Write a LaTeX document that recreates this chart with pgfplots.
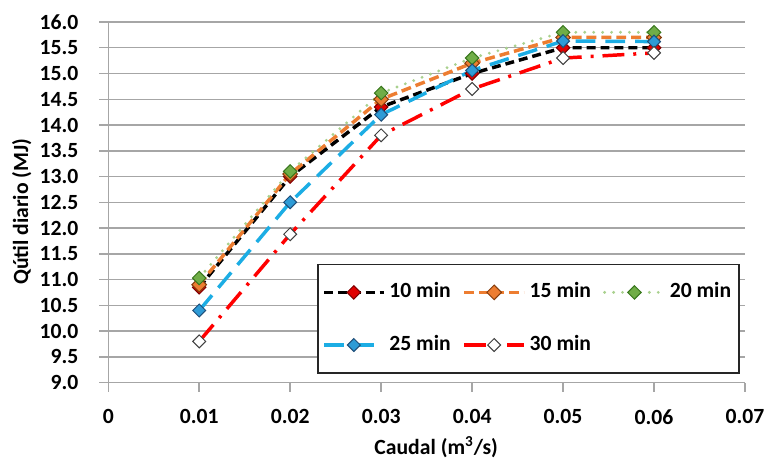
\documentclass[border=0pt]{standalone}
\usepackage{pgfplots}
\pgfplotsset{compat=1.18}
\usepackage{fontspec}
\setmainfont{Carlito}
\definecolor{gridgray}{HTML}{A6A6A6}
\definecolor{c15}{HTML}{ED7D31}
\definecolor{c15d}{HTML}{843C0C}
\definecolor{c20}{HTML}{A9D18E}
\definecolor{c20m}{HTML}{70AD47}
\definecolor{c20d}{HTML}{38761D}
\definecolor{c25}{HTML}{1CADE4}
\definecolor{c25m}{HTML}{2E9BD6}
\definecolor{c25d}{HTML}{1F4E79}
\definecolor{c10m}{HTML}{E00000}
\definecolor{c10d}{HTML}{7F0000}
\newcommand{\lbl}{\fontsize{10.9}{13}\selectfont\bfseries}
\begin{document}
\begin{tikzpicture}
\begin{axis}[
  scale only axis, width=320.5pt, height=181.5pt,
  clip=false,
  xmin=0, xmax=0.07, ymin=9, ymax=16,
  scaled x ticks=false, scaled y ticks=false,
  xtick={0,0.01,0.02,0.03,0.04,0.05,0.06,0.07},
  xticklabels={0,0.01,0.02,0.03,0.04,0.05,0.06,0.07},
  ytick={9,9.5,10,10.5,11,11.5,12,12.5,13,13.5,14,14.5,15,15.5,16},
  /pgf/number format/.cd, fixed, fixed zerofill, precision=1, assume math mode=true,
  /pgfplots/.cd,
  axis x line=bottom, axis y line=left,
  axis line style={-, draw=gridgray, line width=0.75pt},
  tick align=outside, major tick length=4.5pt,
  tick style={draw=gridgray, line width=0.75pt},
  ymajorgrids, grid style={draw=gridgray, line width=0.75pt},
  ticklabel style={font=\lbl},
  xticklabel style={yshift=-5.5pt},
  yticklabel style={xshift=-7pt},
  xlabel={Caudal (m\textsuperscript{3}/s)},
  ylabel={Qútil diario (MJ)},
  label style={font=\lbl},
  xlabel style={at={(axis description cs:0.515,0)}, anchor=center, yshift=-32.5pt},
  ylabel style={at={(axis description cs:-0.136,0.474)}, anchor=center},
  legend columns=3,
  legend image code/.code={\draw[mark repeat=2,mark phase=2,#1] plot coordinates {(0pt,0pt) (15pt,0pt) (30pt,0pt)};},
  legend style={at={(axis description cs:0.992,0.0248)}, anchor=south east,
    draw=black!85, line width=0.8pt, inner xsep=2pt, inner ysep=7.5pt,
    font=\lbl, row sep=13.5pt,
    /tikz/every even column/.append style={column sep=4pt},
    nodes={inner sep=2pt, text height=7pt, text depth=2pt},
    cells={anchor=west}},
]
\path (rel axis cs:-0.170,-0.204) rectangle (rel axis cs:1.033,1.061);

\addplot[black, line width=1.75pt, dash pattern=on 4.5pt off 2.5pt,
  mark=square*, mark size=2.4pt, mark options={rotate=45, solid, fill=c10m, draw=c10d, line width=0.5pt}]
  coordinates {(0.01,10.85) (0.02,13.0) (0.03,14.35) (0.04,15.0) (0.05,15.5) (0.06,15.5)};
\addlegendentry{10 min}

\addplot[c15, line width=1.75pt, dash pattern=on 5pt off 2.5pt,
  mark=square*, mark size=2.6pt, mark options={rotate=45, solid, fill=c15, draw=c15d, line width=0.5pt}]
  coordinates {(0.01,10.9) (0.02,13.05) (0.03,14.5) (0.04,15.2) (0.05,15.7) (0.06,15.7)};
\addlegendentry{15 min}

\addplot[c20, line width=1.6pt, line cap=round, dash pattern=on 0pt off 4.5pt,
  mark=square*, mark size=2.4pt, mark options={rotate=45, solid, fill=c20m, draw=c20d, line width=0.5pt}]
  coordinates {(0.01,11.03) (0.02,13.1) (0.03,14.62) (0.04,15.3) (0.05,15.8) (0.06,15.8)};
\addlegendentry{20 min}

\addplot[c25, line width=1.75pt, dash pattern=on 10pt off 5pt,
  mark=square*, mark size=2.3pt, mark options={rotate=45, solid, fill=c25m, draw=c25d, line width=0.5pt}]
  coordinates {(0.01,10.4) (0.02,12.5) (0.03,14.2) (0.04,15.06) (0.05,15.63) (0.06,15.62)};
\addlegendentry{25 min}

\addplot[red, line width=1.75pt, dash pattern=on 11pt off 4.5pt on 1.5pt off 4.5pt,
  mark=square*, mark size=2.3pt, mark options={rotate=45, solid, fill=white, draw=black!75, line width=0.5pt}]
  coordinates {(0.01,9.8) (0.02,11.88) (0.03,13.8) (0.04,14.7) (0.05,15.3) (0.06,15.4)};
\addlegendentry{30 min}
\end{axis}
\end{tikzpicture}
\end{document}
